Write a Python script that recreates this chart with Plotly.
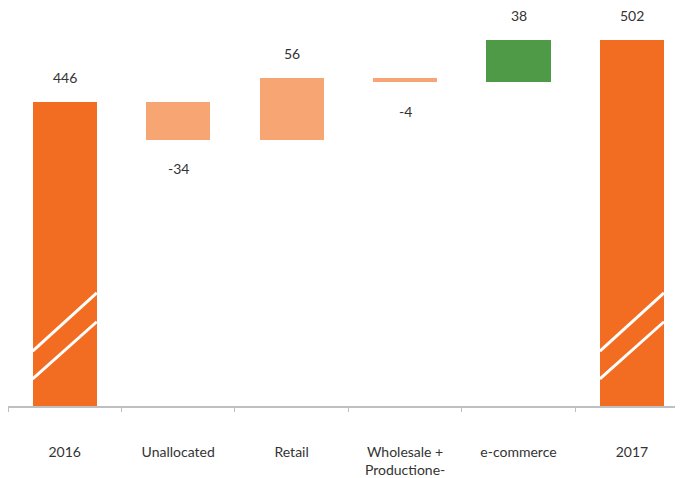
import plotly.graph_objects as go

categories = ["2016", "Unallocated", "Retail", "Wholesale +<br>Productione-", "e-commerce", "2017"]
values = [446, -34, 56, -4, 38, 502]
kinds = ["total", "delta", "delta", "delta", "delta", "total"]
colors = ["#F26D21", "#F7A673", "#F7A673", "#F7A673", "#4E9A47", "#F26D21"]

# compute bar bases/heights
bases, heights, tops, bottoms = [], [], [], []
running = 0
for v, k in zip(values, kinds):
    if k == "total":
        bases.append(0)
        heights.append(v)
        running = v
        tops.append(v)
        bottoms.append(0)
    else:
        lo = min(running, running + v)
        hi = max(running, running + v)
        bases.append(lo)
        heights.append(hi - lo)
        tops.append(hi)
        bottoms.append(lo)
        running += v

BAR_W = 0.565

fig = go.Figure()
fig.add_trace(go.Bar(
    x=categories, y=heights, base=bases, width=BAR_W,
    marker=dict(color=colors, line=dict(width=0)),
    hoverinfo="skip",
))

# value labels (x given as category index)
for i, (v, k) in enumerate(zip(values, kinds)):
    if v >= 0:
        fig.add_annotation(x=i, y=tops[i], text=str(v), showarrow=False,
                           yanchor="middle", yshift=24)
    else:
        fig.add_annotation(x=i, y=bottoms[i], text=str(v), showarrow=False,
                           yanchor="middle", yshift=-29)

# axis-break markers on total bars
for i, k in enumerate(kinds):
    if k == "total":
        for y0, y1 in [(221, 273.5), (196, 247.5)]:
            fig.add_shape(type="line", xref="x", yref="y",
                          x0=i - BAR_W / 2, x1=i + BAR_W / 2, y0=y0, y1=y1,
                          line=dict(color="white", width=3))

fig.update_layout(
    width=675, height=470,
    margin=dict(l=0, r=0, t=0, b=72),
    paper_bgcolor="white", plot_bgcolor="white",
    showlegend=False,
    font=dict(family="Lato", size=14, color="#333333"),
    bargap=0,
)
fig.update_xaxes(
    type="category",
    range=[-0.5, 5.45],
    showline=True, linecolor="#BFBFBF", linewidth=1.5,
    ticks="outside", tickson="boundaries", ticklen=4, tickcolor="#BFBFBF",
    ticklabelstandoff=32,
    showgrid=False, zeroline=False, automargin=False,
)
fig.update_yaxes(
    range=[171.4, 530.9], visible=False, showgrid=False, zeroline=False,
)
fig.write_html("out.html")
